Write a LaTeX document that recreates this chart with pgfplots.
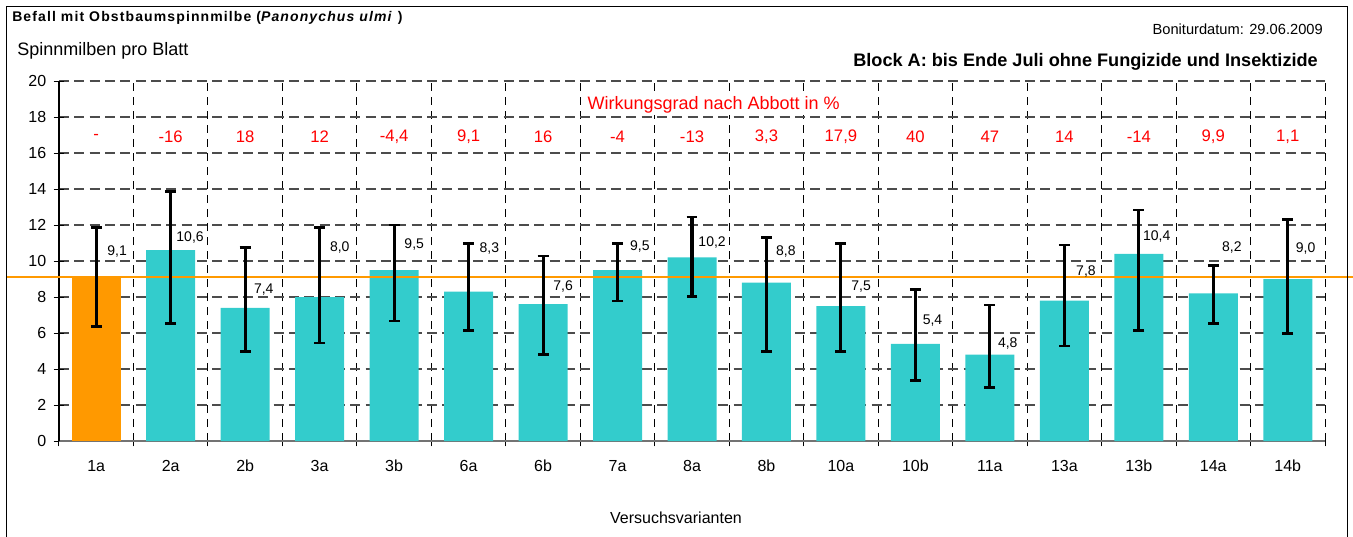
\documentclass[border=0pt]{standalone}
\usepackage{pgfplots}
\usepackage{pgfplotstable}
\pgfplotsset{compat=1.18}
\usepackage{fontspec}
\setmainfont{Liberation Sans}
\definecolor{tealbar}{HTML}{33CCCC}
\definecolor{orng}{HTML}{FF9900}
\definecolor{redt}{HTML}{FF0000}

\pgfplotstableread{
x val ep em
0 9.1 2.75 2.75
1 10.6 3.27 4.06
2 7.4 3.34 2.42
3 8.0 3.85 2.56
4 9.5 2.50 2.83
5 8.3 2.68 2.17
6 7.6 2.68 2.79
7 9.5 1.48 1.72
8 10.2 2.24 2.18
9 8.8 2.50 3.82
10 7.5 3.48 2.52
11 5.4 3.01 2.05
12 4.8 2.76 1.84
13 7.8 3.09 2.52
14 10.4 2.43 4.27
15 8.2 1.54 1.66
16 9.0 3.31 3.02
}\data

\pgfplotstableread{
x y t
0.28 10.55 9,1
1.26 11.30 10,6
2.25 8.39 7,4
3.27 10.74 8,0
4.27 10.94 9,5
5.28 10.70 8,3
6.27 8.57 7,6
7.30 10.83 9,5
8.27 11.04 10,2
9.26 10.55 8,8
10.27 8.57 7,5
11.23 6.67 5,4
12.24 5.39 4,8
13.29 9.41 7,8
14.24 11.35 10,4
15.25 10.74 8,2
16.24 10.70 9,0
}\vlabels

\pgfplotstableread{
x y t
0 16.9 -
1 16.9 -16
2 16.9 18
3 16.9 12
4 16.9 -4,4
5 16.9 9,1
6 16.9 16
7 16.9 -4
8 16.9 -13
9 16.9 3,3
10 16.9 17,9
11 16.9 40
12 16.9 47
13 16.9 14
14 16.9 -14
15 16.9 9,9
16 16.9 1,1
}\abbott

\begin{document}
\begin{tikzpicture}
\useasboundingbox (-44.25pt,-71.25pt) rectangle (970.5pt,330.75pt);
\begin{axis}[
  at={(0,0)}, anchor=south west,
  scale only axis, width=949.5pt, height=270pt,
  xmin=-0.5, xmax=16.5, ymin=0, ymax=20,
  clip=false,
  axis x line*=bottom, axis y line*=left,
  x axis line style={draw=black!55, line width=1.5pt},
  y axis line style={draw=black, line width=0.8pt},
  xtick={0,...,16},
  xticklabels={1a,2a,2b,3a,3b,6a,6b,7a,8a,8b,10a,10b,11a,13a,13b,14a,14b},
  minor xtick={-0.5,0.5,...,16.5},
  ytick={0,2,...,20},
  ymajorgrids, xminorgrids,
  major grid style={draw=black!70, line width=0.9pt, dash pattern=on 7.5pt off 4pt},
  minor grid style={draw=black, line width=0.75pt, dash pattern=on 6pt off 4.5pt},
  major x tick style={draw=none},
  minor x tick style={draw=black, line width=0.75pt},
  minor tick length=8pt,
  y tick style={draw=black, line width=0.75pt},
  major tick length=8pt,
  tick align=center,
  /pgf/number format/assume math mode=true,
  ticklabel style={font=\fontsize{12}{14}\selectfont},
  xticklabel style={yshift=-7pt},
  yticklabel style={xshift=-2pt},
]
% bars
\addplot[ybar, bar width=36.75pt, bar shift=0pt, fill=orng, draw=none,
  restrict x to domain=-0.5:0.5] table[x=x, y=val] {\data};
\addplot[ybar, bar width=36.75pt, bar shift=0pt, fill=tealbar, draw=none,
  restrict x to domain=0.5:16.5] table[x=x, y=val] {\data};
% reference line (value of 1a)
\addplot[orng, line width=1.3pt, mark=none] coordinates {(-1.2,9.1) (16.9,9.1)};
% error bars
\addplot[draw=none, mark=none,
  error bars/.cd, y dir=both, y explicit,
  error bar style={draw=black, line width=2.3pt},
  error mark options={draw=black, line width=1.9pt, mark size=4.1pt, rotate=90}
] table[x=x, y=val, y error plus=ep, y error minus=em] {\data};
% value labels
\addplot[draw=none, mark=none, nodes near coords, point meta=explicit symbolic,
  nodes near coords style={anchor=center, font=\fontsize{10.5}{12}\selectfont, text=black}]
  table[x=x, y=y, meta=t] {\vlabels};
% Abbott efficiencies
\addplot[draw=none, mark=none, nodes near coords, point meta=explicit symbolic,
  nodes near coords style={anchor=center, font=\fontsize{12.5}{14}\selectfont, text=redt}]
  table[x=x, y=y, meta=t] {\abbott};
\node[text=redt, fill=white, inner xsep=1pt, inner ysep=2pt, font=\fontsize{13.5}{15}\selectfont] at (axis cs:8.29,18.7) {Wirkungsgrad nach Abbott in \%};
\end{axis}
% frame
\draw[black, line width=0.75pt] (-39pt,-75pt) -- (-39pt,325.5pt) -- (966pt,325.5pt) -- (966pt,-75pt);
% texts
\node[anchor=west, inner sep=0pt, font=\fontsize{10.5}{12}\selectfont\bfseries\addfontfeature{LetterSpace=8}] at (-35.25pt,317.25pt)
  {Befall mit Obstbaumspinnmilbe (\textit{Panonychus ulmi} )};
\node[anchor=east, inner sep=0pt, font=\fontsize{11}{13}\selectfont] at (948pt,309pt) {Boniturdatum: 29.06.2009};
\node[anchor=west, inner sep=0pt, font=\fontsize{13.5}{15}\selectfont] at (-31.5pt,292.5pt) {Spinnmilben pro Blatt};
\node[anchor=east, inner sep=0pt, font=\fontsize{13.6}{15}\selectfont\bfseries] at (944.25pt,284.25pt)
  {Block A: bis Ende Juli ohne Fungizide und Insektizide};
\node[anchor=center, inner sep=0pt, font=\fontsize{12}{14}\selectfont] at (462.75pt,-57.75pt) {Versuchsvarianten};
\end{tikzpicture}
\end{document}
